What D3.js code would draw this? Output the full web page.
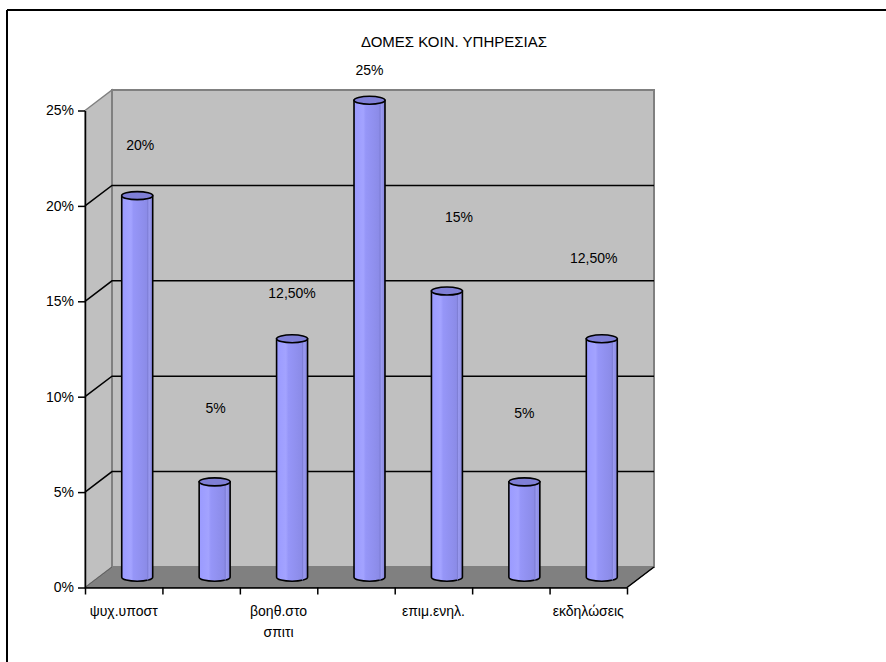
<!DOCTYPE html>
<html>
<head>
<meta charset="utf-8">
<script src="https://cdn.jsdelivr.net/npm/d3@7"></script>
<style>
  html, body { margin: 0; padding: 0; background: #fff; }
  svg text { font-family: Arial, "Liberation Sans", sans-serif; fill: #000; }
</style>
</head>
<body>
<svg id="chart" width="886" height="662"></svg>
<script>
// ---------- data ----------
const title = "ΔΟΜΕΣ ΚΟΙΝ. ΥΠΗΡΕΣΙΑΣ";
const categories = ["ψυχ.υποστ", "", "βοηθ.στο σπιτι", "", "επιμ.ενηλ.", "", "εκδηλώσεις"];
const values = [0.20, 0.05, 0.125, 0.25, 0.15, 0.05, 0.125];
const valueLabels = ["20%", "5%", "12,50%", "25%", "15%", "5%", "12,50%"];
const yTicks = [0, 0.05, 0.10, 0.15, 0.20, 0.25];

// ---------- layout (not data) ----------
const plot = { left: 85, right: 627, bottom: 587.5, top: 110.5 };
const depth = { dx: 27, dy: -20.5 };
// label displacement from each bar top, as Excel placed them
const labelShift = [[3, -51], [1, -74], [0, -46], [0, -30], [12, -74], [0, -69], [-8, -81]];

const svg = d3.select("#chart");

const x = d3.scaleBand().domain(d3.range(categories.length)).range([plot.left, plot.right]).paddingInner(0).paddingOuter(0);
const y = d3.scaleLinear().domain([0, 0.25]).range([plot.bottom, plot.top]);
const bw = x.bandwidth();

// gradient for cylinders
const defs = svg.append("defs");
const g1 = defs.append("linearGradient").attr("id", "cyl").attr("x1", "0%").attr("x2", "100%").attr("y1", "0%").attr("y2", "0%");
[["0%", "#9a9aff"], ["30%", "#a3a3ff"], ["38%", "#9696f8"], ["70%", "#8e8eec"], ["84%", "#8a8ae6"], ["88%", "#9a9af0"], ["100%", "#8585dc"]]
  .forEach(([o, c]) => g1.append("stop").attr("offset", o).attr("stop-color", c));

// outer frame (only top and left visible)
svg.append("line").attr("x1", 7).attr("y1", 10).attr("x2", 886).attr("y2", 10).attr("stroke", "#000").attr("stroke-width", 2);
svg.append("line").attr("x1", 7).attr("y1", 10).attr("x2", 7).attr("y2", 662).attr("stroke", "#000").attr("stroke-width", 2);

const y0 = y(0), yT = y(0.25);
const L = plot.left, R = plot.right, dx = depth.dx, dy = depth.dy;

// floor
svg.append("path")
  .attr("d", `M${L},${y0} L${R},${y0} L${R + dx},${y0 + dy} L${L + dx},${y0 + dy} Z`)
  .attr("fill", "#808080").attr("stroke", "#404040").attr("stroke-width", 1);
// left side wall
svg.append("path")
  .attr("d", `M${L},${y0} L${L},${yT} L${L + dx},${yT + dy} L${L + dx},${y0 + dy} Z`)
  .attr("fill", "#c0c0c0").attr("stroke", "#808080").attr("stroke-width", 1.5);
// back wall
svg.append("rect")
  .attr("x", L + dx).attr("y", yT + dy).attr("width", R - L).attr("height", y0 - yT)
  .attr("fill", "#c0c0c0").attr("stroke", "#808080").attr("stroke-width", 2);

// gridlines
const grid = yTicks.filter(t => t > 0 && t < 0.25);
svg.append("g").selectAll("path").data(grid).join("path")
  .attr("d", t => `M${L},${y(t)} L${L + dx},${y(t) + dy} L${R + dx},${y(t) + dy}`)
  .attr("fill", "none").attr("stroke", "#000").attr("stroke-width", 1.5);
// floor front-right edge
svg.append("line").attr("x1", R).attr("y1", y0).attr("x2", R + dx).attr("y2", y0 + dy)
  .attr("stroke", "#000").attr("stroke-width", 1.5);
// redraw left-wall bottom edge
svg.append("line").attr("x1", L).attr("y1", y0).attr("x2", L + dx).attr("y2", y0 + dy)
  .attr("stroke", "#606060").attr("stroke-width", 1);

// y axis
const yAxis = d3.axisLeft(y).tickValues(yTicks).tickFormat(d3.format(".0%")).tickSize(7).tickSizeOuter(0).tickPadding(4);
const ya = svg.append("g").attr("transform", `translate(${L},0)`).call(yAxis);
ya.select(".domain").attr("stroke", "#000").attr("stroke-width", 1.5);
ya.selectAll(".tick line").attr("stroke", "#000").attr("stroke-width", 1.5);
ya.selectAll("text").attr("font-size", 14).attr("font-family", "Arial, 'Liberation Sans', sans-serif");

// x axis: boundary ticks
const bounds = d3.range(categories.length + 1).map(i => plot.left + i * bw);
const xb = d3.scaleLinear().domain([plot.left, plot.right]).range([plot.left, plot.right]);
const xAxis = d3.axisBottom(xb).tickValues(bounds).tickFormat("").tickSize(7).tickSizeOuter(0);
const xa = svg.append("g").attr("transform", `translate(0,${y0})`).call(xAxis);
xa.select(".domain").attr("stroke", "#000").attr("stroke-width", 1.5);
xa.selectAll(".tick line").attr("stroke", "#000").attr("stroke-width", 1.5);

// category labels
const catG = svg.append("g");
categories.forEach((c, i) => {
  if (!c) return;
  const words = c.split(" ");
  const t = catG.append("text").attr("text-anchor", "middle").attr("font-size", 14)
    .attr("x", x(i) + bw / 2).attr("y", y0 + 28);
  words.forEach((w, k) => t.append("tspan").attr("x", x(i) + bw / 2).attr("dy", k === 0 ? 0 : 21).text(w));
});

// cylinders at mid depth
const mdx = dx / 2, mdy = dy / 2;
const cw = bw * 0.4, rx = cw / 2, ry = 4;
const bars = svg.append("g").selectAll("g").data(values).join("g");
bars.each(function (v, i) {
  const g = d3.select(this);
  const cx = x(i) + bw / 2 + mdx;
  const top = y(v) + mdy, bot = y(0) + mdy;
  const x0 = cx - rx, x1 = cx + rx;
  g.append("path")
    .attr("d", `M${x0},${top} L${x0},${bot} A${rx},${ry} 0 0 0 ${x1},${bot} L${x1},${top} Z`)
    .attr("fill", "url(#cyl)").attr("stroke", "#000").attr("stroke-width", 1.6);
  g.append("line").attr("x1", x0 + cw * 0.84).attr("x2", x0 + cw * 0.84).attr("y1", top).attr("y2", bot + ry * 0.8)
    .attr("stroke", "#7c7cd0").attr("stroke-width", 0.8);
  g.append("ellipse").attr("cx", cx).attr("cy", top).attr("rx", rx).attr("ry", ry)
    .attr("fill", "#7f7fd6").attr("stroke", "#000").attr("stroke-width", 1.6);
});

// value labels
svg.append("g").selectAll("text").data(values).join("text")
  .attr("text-anchor", "middle").attr("font-size", 14)
  .attr("x", (v, i) => x(i) + bw / 2 + mdx + labelShift[i][0])
  .attr("y", (v, i) => y(v) + mdy + labelShift[i][1] + 5)
  .text((v, i) => valueLabels[i]);

// title
svg.append("text").attr("x", 454).attr("y", 47).attr("text-anchor", "middle").attr("font-size", 15).text(title);
</script>
</body>
</html>
